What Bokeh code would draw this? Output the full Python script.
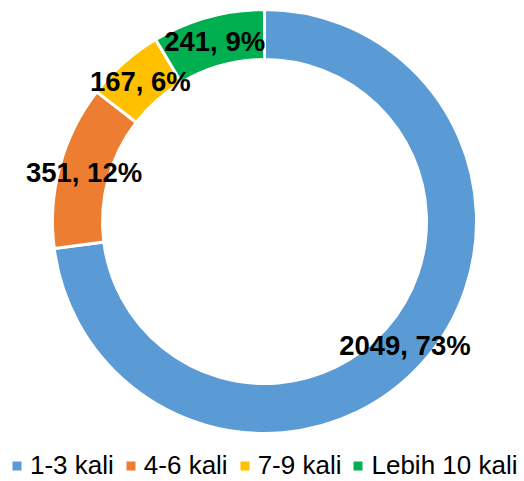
import numpy as np
from bokeh.plotting import figure
from bokeh.models import ColumnDataSource, Legend, LegendItem, Range1d
from bokeh.core.properties import value
from bokeh.embed import file_html
from bokeh.resources import INLINE

categories = ["1-3 kali", "4-6 kali", "7-9 kali", "Lebih 10 kali"]
counts = [2049, 351, 167, 241]
colors = ["#5B9BD5", "#ED7D31", "#FFC000", "#00B050"]

W, H = 524, 481
cx, cy = 264, H - 221
r_in, r_out = 162, 212

total = sum(counts)
frac = np.array(counts) / total
cum_end = np.cumsum(frac)
cum_start = cum_end - frac
start = np.pi / 2 - cum_start * 2 * np.pi
end = np.pi / 2 - cum_end * 2 * np.pi
mid = np.pi / 2 - (cum_start + frac / 2) * 2 * np.pi
r_mid = (r_in + r_out) / 2
labels = [f"{c}, {round(f * 100)}%" for c, f in zip(counts, frac)]

src = ColumnDataSource(dict(
    start=start, end=end, color=colors, cat=categories,
    lx=cx + r_mid * np.cos(mid), ly=cy + r_mid * np.sin(mid), label=labels,
))

p = figure(width=W, height=H, output_backend="svg", toolbar_location=None,
           x_range=Range1d(0, W), y_range=Range1d(0, H), min_border=0)
p.axis.visible = False
p.grid.visible = False
p.outline_line_color = None
p.background_fill_color = "white"

items = []
for i in range(len(counts)):
    r = p.annular_wedge(x=cx, y=cy, inner_radius=r_in, outer_radius=r_out,
                        start_angle=start[i], end_angle=end[i], direction="clock",
                        fill_color=colors[i], line_color="white", line_width=3)
    items.append(LegendItem(label=categories[i], renderers=[r]))

p.text(x="lx", y="ly", text="label", source=src, text_align="center",
       text_baseline="middle", text_font=value("Liberation Sans"),
       text_font_style="bold", text_font_size="27.5px", text_color="black")

legend = Legend(items=items, orientation="horizontal", location=(9, 0),
                glyph_width=15, glyph_height=15, label_standoff=6, spacing=9,
                padding=0, margin=0, border_line_color=None, background_fill_alpha=0,
                label_text_font="Liberation Sans", label_text_font_size="26px",
                label_text_color="black")
p.add_layout(legend, "center")

open("out.html", "w").write(file_html(p, INLINE))
